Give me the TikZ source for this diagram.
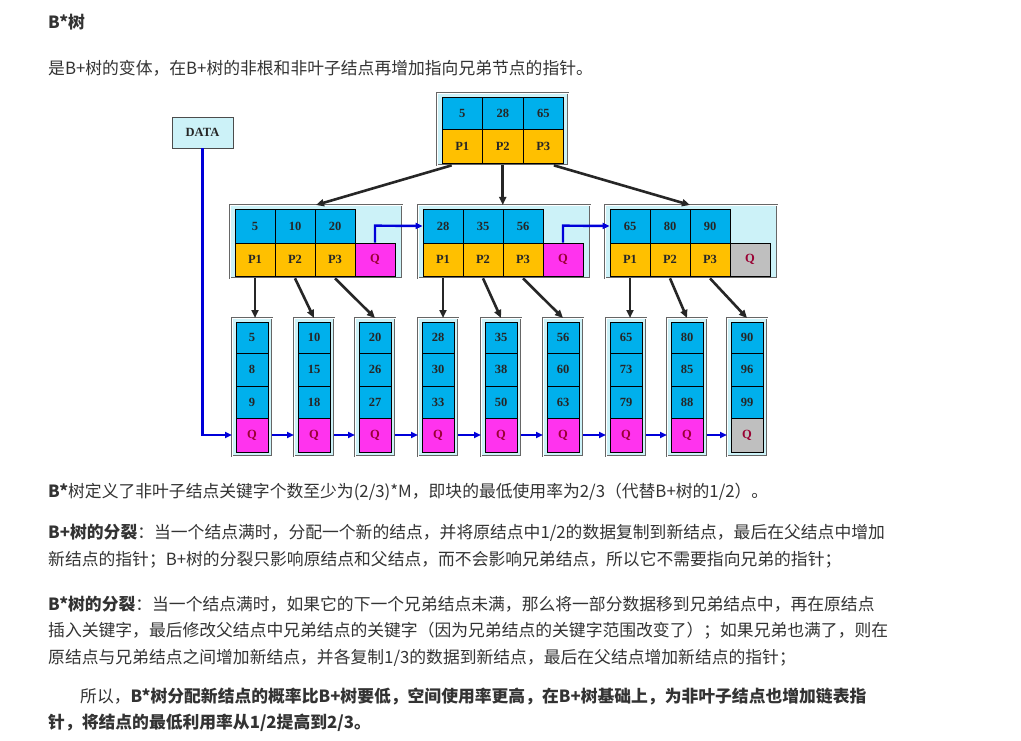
\documentclass[tikz,border=0pt]{standalone}
\usepackage{fontspec}
\setmainfont{Noto Sans CJK SC}
\newfontfamily\serifb{Liberation Serif Bold}
\usetikzlibrary{arrows.meta}
\definecolor{cyanc}{HTML}{00B0EC}
\definecolor{orangec}{HTML}{FFC000}
\definecolor{magc}{HTML}{FF33EE}
\definecolor{frame}{HTML}{CCF2F8}
\definecolor{greyc}{HTML}{BFBFBF}
\definecolor{txt}{HTML}{333333}
\tikzset{
 cell/.style={draw=black, line width=0.7pt, inner sep=0pt, font=\serifb\fontsize{12.5}{12.5}\selectfont, text=black!85},
 outer/.style={draw=black!60, fill=frame, line width=0.8pt, double=white, double distance=0.6pt},
 tree/.style={-{Triangle[length=8pt,width=7pt]}, line width=2.6pt, black!85},
 link/.style={-{Triangle[length=7pt,width=6pt]}, line width=2.4pt, blue!85!black},
 para/.style={anchor=west, inner sep=0pt, text=txt, font=\fontsize{16.8}{16.8}\selectfont},
}
\begin{document}
\begin{tikzpicture}[x=1pt,y=-1pt]
\useasboundingbox[fill=white] (0,0) rectangle (1021,741);
% texts
\node[para, font=\bfseries\fontsize{16.8}{16.8}\selectfont] (t0) at (48,22) {B*树};
\node[para] (t1) at (48,68) {是B+树的变体，在B+树的非根和非叶子结点再增加指向兄弟节点的指针。};
\node[para] (t2) at (48,492) {\textbf{B*}树定义了非叶子结点关键字个数至少为(2/3)*M，即块的最低使用率为2/3（代替B+树的1/2）。};
\node[para] (t3) at (48,533) {\textbf{B+树的分裂}：当一个结点满时，分配一个新的结点，并将原结点中1/2的数据复制到新结点，最后在父结点中增加};
\node[para] (t4) at (48,560) {新结点的指针；B+树的分裂只影响原结点和父结点，而不会影响兄弟结点，所以它不需要指向兄弟的指针；};
\node[para] (t5) at (48,604) {\textbf{B*树的分裂}：当一个结点满时，如果它的下一个兄弟结点未满，那么将一部分数据移到兄弟结点中，再在原结点};
\node[para] (t6) at (48,631) {插入关键字，最后修改父结点中兄弟结点的关键字（因为兄弟结点的关键字范围改变了）；如果兄弟也满了，则在};
\node[para] (t7) at (48,658) {原结点与兄弟结点之间增加新结点，并各复制1/3的数据到新结点，最后在父结点增加新结点的指针；};
\node[para] (t8) at (80,697) {所以，\textbf{B*树分配新结点的概率比B+树要低，空间使用率更高，在B+树基础上，为非叶子结点也增加链表指}};
\node[para] (t9) at (48,723) {\textbf{针，将结点的最低利用率从1/2提高到2/3。}};

% DATA
\node[cell, draw=black!70, fill=frame, minimum width=61pt, minimum height=31pt] (data) at (202.5,132.5) {DATA};

% root
\draw[outer] (437,93) rectangle (568,165);
\foreach \v/\p [count=\i from 0] in {5/P1,28/P2,65/P3}{
 \node[cell, fill=cyanc, minimum width=40.5pt, minimum height=32pt] (r\i) at (462.25+40.5*\i,113) {\v};
 \node[cell, fill=orangec, minimum width=40.5pt, minimum height=34pt] (rp\i) at (462.25+40.5*\i,146) {\p};
}

% middle nodes
\foreach \x/\a/\b/\c/\qc [count=\m from 0] in {230/5/10/20/magc,418/28/35/56/magc,605/65/80/90/greyc}{
 \draw[outer] (\x,205) rectangle (\x+172,278);
 \foreach \v/\p [count=\i from 0] in {\a/P1,\b/P2,\c/P3}{
  \node[cell, fill=cyanc, minimum width=40pt, minimum height=34pt] (m\m k\i) at (\x+25+40*\i,226) {\v};
  \node[cell, fill=orangec, minimum width=40pt, minimum height=33pt] (m\m p\i) at (\x+25+40*\i,259.5) {\p};
 }
 \node[cell, fill=\qc, text=purple!80!black, minimum width=40pt, minimum height=33pt] (m\m q) at (\x+145,259.5) {Q};
}

% leaves
\foreach \x/\a/\b/\c/\qc [count=\l from 0] in {232/5/8/9/magc,294/10/15/18/magc,355/20/26/27/magc,418/28/30/33/magc,481/35/38/50/magc,543/56/60/63/magc,606/65/73/79/magc,667/80/85/88/magc,727/90/96/99/greyc}{
 \draw[outer] (\x,318) rectangle (\x+40,456);
 \node[cell, fill=cyanc, minimum width=32pt, minimum height=31pt] (l\l a) at (\x+20,337.5) {\a};
 \node[cell, fill=cyanc, minimum width=32pt, minimum height=33pt] (l\l b) at (\x+20,369.5) {\b};
 \node[cell, fill=cyanc, minimum width=32pt, minimum height=32pt] (l\l c) at (\x+20,402) {\c};
 \node[cell, fill=\qc, text=purple!80!black, minimum width=32pt, minimum height=34pt] (l\l q) at (\x+20,435) {Q};
 \coordinate (l\l top) at (\x+20,318);
 \coordinate (l\l in) at (\x,435);
}

% root arrows
\draw[tree] (rp0.south west) ++(10,2) -- (316,205);
\draw[tree] (rp1.south) ++(0,2) -- (rp1.south |- 0,205);
\draw[tree] (rp2.south east) ++(-10,2) -- (690,205);

% middle to leaves
\foreach \m in {0,1,2}{
 \pgfmathtruncatemacro{\ba}{3*\m}
 \pgfmathtruncatemacro{\bb}{3*\m+1}
 \pgfmathtruncatemacro{\bc}{3*\m+2}
 \draw[tree] (m\m p0.south) ++(0,2) -- (m\m p0.south |- l\ba top);
 \draw[tree] (m\m p1.south) ++(0,2) -- (l\bb top);
 \draw[tree] (m\m p2.south) ++(0,2) -- (l\bc top);
}

% sibling links (middle)
\draw[link] (m0q.north) -- ++(0,-17) -- (m1k0.west |- 0,226);
\draw[link] (m1q.north) -- ++(0,-17) -- (m2k0.west |- 0,226);

% leaf links
\draw[link] (data.south) -- (data.south |- l0in) -- (l0in);
\foreach \i [evaluate=\i as \j using int(\i+1)] in {0,...,7}{
 \draw[link] (l\i q.east) ++(4,0) -- (l\j in);
}
\end{tikzpicture}
\end{document}
